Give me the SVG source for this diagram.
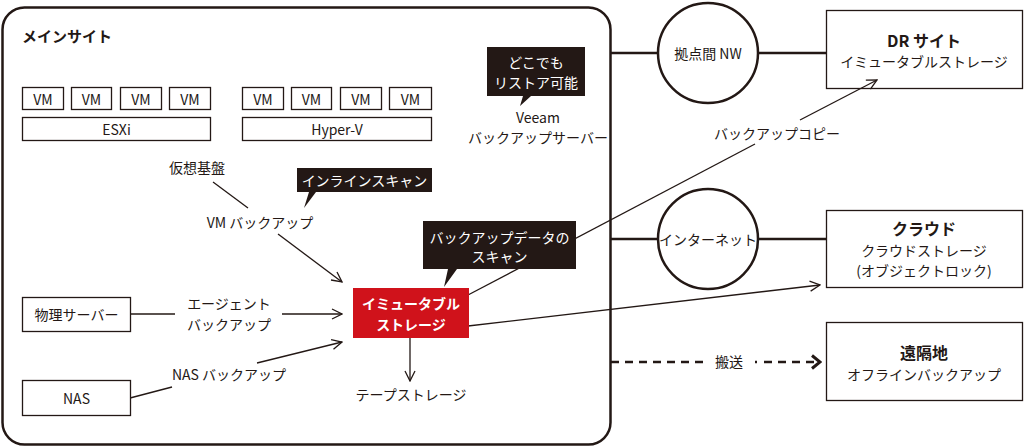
<svg xmlns="http://www.w3.org/2000/svg" width="1027" height="448" viewBox="0 0 1027 448">
<defs>
<style>
text{font-family:"Noto Sans CJK JP","Noto Sans",sans-serif;fill:#231815;font-size:14px;text-anchor:middle;dominant-baseline:central}
.b{font-weight:bold}
.w{fill:#fff}
.box{fill:#fff;stroke:#231815;stroke-width:1.3}
.net{fill:#fff;stroke:#231815;stroke-width:2.5}
.ln{fill:none;stroke:#231815;stroke-width:1.3}
.thick{fill:none;stroke:#231815;stroke-width:2.5}
.call{fill:#231815}
</style>
<marker id="ah" viewBox="0 0 12 12" refX="11" refY="6" markerWidth="12" markerHeight="12" markerUnits="userSpaceOnUse" orient="auto">
<path d="M1,1 L11,6 L1,11" fill="none" stroke="#231815" stroke-width="1.3"/>
</marker>
<marker id="ahb" viewBox="0 0 12 16" refX="10" refY="8" markerWidth="12" markerHeight="16" markerUnits="userSpaceOnUse" orient="auto">
<path d="M2,1.5 L10,8 L2,14.5" fill="none" stroke="#231815" stroke-width="3"/>
</marker>
</defs>
<rect width="1027" height="448" fill="#fff"/>

<g id="main-site">
<rect x="2.5" y="7.5" width="608" height="437" rx="22" fill="none" stroke="#231815" stroke-width="2.5"/>
<text x="22" y="35" class="b" style="text-anchor:start;font-size:15px">メインサイト</text>
</g>

<g id="connectors">
<line x1="611" y1="53" x2="658" y2="53" class="thick"/>
<line x1="758" y1="53" x2="826" y2="53" class="thick"/>
<line x1="611" y1="239" x2="658" y2="239" class="thick"/>
<line x1="758" y1="239" x2="826" y2="239" class="thick"/>
<line x1="611" y1="362" x2="705" y2="362" class="thick" stroke-dasharray="8,6"/>
<line x1="755" y1="362" x2="757" y2="362" class="thick"/>
<line x1="764" y1="362" x2="820" y2="362" class="thick" stroke-dasharray="8,6" marker-end="url(#ahb)"/>
<line x1="213" y1="182" x2="248" y2="208" class="ln"/>
<line x1="278" y1="234" x2="342" y2="282" class="ln" marker-end="url(#ah)"/>
<line x1="130" y1="314" x2="175" y2="314" class="ln"/>
<line x1="282" y1="314" x2="342" y2="314" class="ln" marker-end="url(#ah)"/>
<line x1="130" y1="398" x2="172" y2="387" class="ln"/>
<line x1="257" y1="363" x2="342" y2="342" class="ln" marker-end="url(#ah)"/>
<line x1="410" y1="338" x2="410" y2="381" class="ln" marker-end="url(#ah)"/>
<line x1="468" y1="295" x2="755" y2="144" class="ln"/>
<line x1="800" y1="120" x2="877" y2="80" class="ln" marker-end="url(#ah)"/>
<line x1="468" y1="326" x2="820" y2="285" class="ln" marker-end="url(#ah)"/>
</g>

<g id="esxi-vms">
<rect x="22.5" y="87.5" width="41" height="22" class="box"/><text x="43" y="99">VM</text>
<rect x="71.5" y="87.5" width="40" height="22" class="box"/><text x="91.5" y="99">VM</text>
<rect x="120.5" y="87.5" width="41" height="22" class="box"/><text x="141" y="99">VM</text>
<rect x="169.5" y="87.5" width="41" height="22" class="box"/><text x="190" y="99">VM</text>
</g>
<g id="esxi"><rect x="22.5" y="117.5" width="188" height="23" class="box"/><text x="116.5" y="129">ESXi</text></g>

<g id="hyperv-vms">
<rect x="242.5" y="87.5" width="41" height="22" class="box"/><text x="263" y="99">VM</text>
<rect x="291.5" y="87.5" width="40" height="22" class="box"/><text x="311.5" y="99">VM</text>
<rect x="340.5" y="87.5" width="41" height="22" class="box"/><text x="361" y="99">VM</text>
<rect x="389.5" y="87.5" width="42" height="22" class="box"/><text x="410.5" y="99">VM</text>
</g>
<g id="hyperv"><rect x="242.5" y="117.5" width="189" height="23" class="box"/><text x="337" y="129">Hyper-V</text></g>

<g id="callout-restore">
<path d="M487,47 H585 V96 H531 L520,106 L523,96 H487 Z" class="call"/>
<text x="536" y="62" class="w">どこでも</text>
<text x="536" y="82" class="w">リストア可能</text>
</g>
<g id="veeam">
<text x="538" y="117">Veeam</text>
<text x="538" y="137">バックアップサーバー</text>
</g>

<g id="virt-base"><text x="197" y="167">仮想基盤</text></g>
<g id="vm-backup"><text x="260" y="222">VM バックアップ</text></g>
<g id="callout-inline">
<path d="M297,168 H432 V192 H316 L304,208 L309,192 H297 Z" class="call"/>
<text x="364.5" y="180" class="w">インラインスキャン</text>
</g>

<g id="physical-server"><rect x="22.5" y="297.5" width="108" height="34" class="box"/><text x="76.5" y="314">物理サーバー</text></g>
<g id="agent-backup">
<text x="229" y="303">エージェント</text>
<text x="229" y="324">バックアップ</text>
</g>
<g id="nas"><rect x="22.5" y="380.5" width="108" height="35" class="box"/><text x="76.5" y="398">NAS</text></g>
<g id="nas-backup"><text x="229" y="374">NAS バックアップ</text></g>

<g id="immutable-storage">
<rect x="353" y="288" width="116" height="50" fill="#d0121b"/>
<text x="411" y="303" class="b w">イミュータブル</text>
<text x="411" y="324" class="b w">ストレージ</text>
</g>
<g id="tape"><text x="411" y="394">テープストレージ</text></g>

<g id="callout-scan">
<path d="M423,221 H576 V269 H457 L444,287 L448,269 H423 Z" class="call"/>
<text x="499.5" y="237" class="w">バックアップデータの</text>
<text x="499.5" y="256" class="w">スキャン</text>
</g>

<g id="backup-copy-label"><text x="777" y="133">バックアップコピー</text></g>

<g id="wan"><circle cx="708" cy="53" r="50" class="net"/><text x="708" y="53">拠点間 NW</text></g>
<g id="internet"><circle cx="708" cy="239" r="50" class="net"/><text x="708" y="239">インターネット</text></g>

<g id="dr-site">
<rect x="826.5" y="10.5" width="196" height="78" fill="none" stroke="#231815" stroke-width="1.3"/>
<text x="924" y="40" class="b" style="font-size:16px">DR サイト</text>
<text x="924" y="61">イミュータブルストレージ</text>
</g>
<g id="cloud">
<rect x="826.5" y="210.5" width="196" height="77" class="box"/>
<text x="924" y="228" class="b" style="font-size:16px">クラウド</text>
<text x="924" y="250">クラウドストレージ</text>
<text x="924" y="270">(オブジェクトロック)</text>
</g>
<g id="remote">
<rect x="826.5" y="322.5" width="196" height="78" class="box"/>
<text x="924" y="352" class="b" style="font-size:16px">遠隔地</text>
<text x="924" y="374">オフラインバックアップ</text>
</g>
<g id="transport-label"><text x="729" y="361">搬送</text></g>
</svg>
